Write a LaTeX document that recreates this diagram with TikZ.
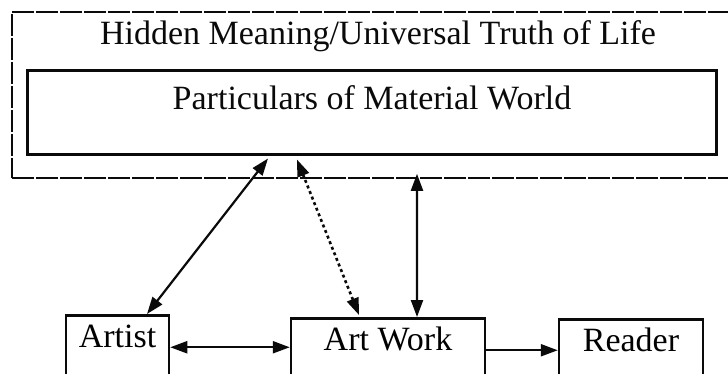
\documentclass[tikz,border=0pt]{standalone}
\usepackage{fontspec}
\setmainfont{Liberation Serif}
\usetikzlibrary{arrows.meta, positioning, calc}
\definecolor{myink}{RGB}{10,10,10}
\newcommand\diagfont{\fontsize{34bp}{40bp}\selectfont}
\tikzset{
  outerframe/.style={rectangle, draw=myink, line width=1.6bp,
    dash pattern=on 22bp off 2bp, minimum width=732bp,
    minimum height=166bp, inner sep=0pt},
  worldbox/.style={rectangle, draw=myink, line width=3bp,
    minimum width=688bp, minimum height=84bp, inner sep=0pt},
  agent/.style={rectangle, draw=myink, line width=2.5bp, font=\diagfont,
    text height=24bp, text depth=24bp, inner ysep=8bp, inner xsep=0pt},
  txt/.style={font=\diagfont, color=myink, inner sep=0pt},
  arrow/.style={-{Triangle[length=17bp,width=12bp]}, line width=2.2bp, color=myink},
  dblarrow/.style={{Triangle[length=17bp,width=12bp]}-{Triangle[length=17bp,width=12bp]},
    line width=2.2bp, color=myink},
  dotarrow/.style={dblarrow, line width=2.6bp, dash pattern=on 3bp off 3bp}
}
\begin{document}
\begin{tikzpicture}[x=1bp, y=1bp]
  \useasboundingbox (0,0) rectangle (728,373);
  % Outer frame (hidden meaning)
  \node[outerframe] (truth) at (378,278) {};
  \node[txt, anchor=base] (title) at ([yshift=-33bp]truth.north)
    {Hidden Meaning/Universal Truth of Life};
  % Material world
  \node[worldbox] (world) at (372,261) {};
  \node[txt, anchor=base] (particulars) at ([yshift=-41bp]world.north)
    {Particulars of Material World};
  % Bottom row
  \node[agent, minimum width=103bp, anchor=north] (artist) at (117.5,59) {Artist};
  \node[agent, minimum width=194bp, anchor=north] (work) at (388,56) {Art Work};
  \node[agent, minimum width=144bp, anchor=north] (reader) at (631,55) {Reader};
  % Connectors
  \coordinate (wa) at ([xshift=-104bp,yshift=-3bp]world.south);
  \coordinate (wd) at ([xshift=-75bp,yshift=-4bp]world.south);
  \draw[dblarrow] ([xshift=29.5bp]artist.north) -- (wa);
  \draw[dotarrow] ([xshift=-29bp,yshift=2bp]work.north) -- (wd);
  \draw[dblarrow] ([xshift=29bp]work.north) -- ($(work.north |- truth.south)+(29,5)$);
  \draw[dblarrow] (artist.east) -- (artist.east -| work.west);
  \draw[arrow] (work.east) -- (work.east -| reader.west);
\end{tikzpicture}
\end{document}
